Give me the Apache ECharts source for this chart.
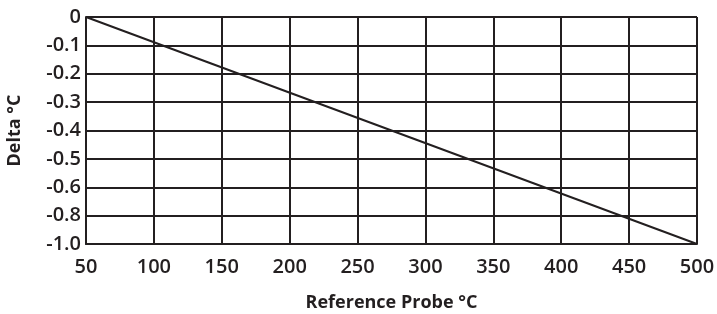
<!DOCTYPE html>
<html><head><meta charset="utf-8">
<script src="https://cdn.jsdelivr.net/npm/echarts@6/dist/echarts.min.js"></script>
<style>html,body{margin:0;padding:0;background:#fff}#c{width:717px;height:314px}</style>
</head><body><div id="c"></div>
<script>
// Tick labels on the Delta axis (the original chart's axis is not linear: -0.7 and -0.9 are skipped)
const yTickLabels = ['0','-0.1','-0.2','-0.3','-0.4','-0.5','-0.6','-0.8','-1.0'];
// Reference probe temperatures (°C)
const probeTemps = [50, 500];
// Delta values (°C), matching yTickLabels entries
const deltaValues = ['0', '-1.0'];

const ink = '#231f20';
const chart = echarts.init(document.getElementById('c'), null, {renderer:'canvas'});
chart.setOption({
  animation: false,
  backgroundColor: '#fff',
  grid: {left: 86, right: 20, top: 17, bottom: 70, containLabel: false, outerBoundsMode: 'none'},
  xAxis: {
    type: 'value', min: 50, max: 500, interval: 50,
    name: 'Reference Probe °C', nameLocation: 'middle', nameGap: 50,
    nameTextStyle: {fontFamily: 'Open Sans', fontWeight: 'bold', fontSize: 18, color: ink},
    axisLine: {show: true, lineStyle: {color: ink, width: 2}},
    axisTick: {show: false},
    axisLabel: {fontFamily: 'Open Sans', fontWeight: 600, fontSize: 20, color: ink, margin: 13},
    splitLine: {show: true, lineStyle: {color: ink, width: 2}}
  },
  yAxis: {
    type: 'category', data: yTickLabels, boundaryGap: false, inverse: true,
    name: 'Delta °C', nameLocation: 'middle', nameGap: 62, nameRotate: 90,
    nameTextStyle: {fontFamily: 'Open Sans', fontWeight: 'bold', fontSize: 18, color: ink},
    axisLine: {show: true, lineStyle: {color: ink, width: 2}},
    axisTick: {show: false},
    axisLabel: {fontFamily: 'Open Sans', fontWeight: 600, fontSize: 20, color: ink, margin: 5, interval: 0},
    splitLine: {show: true, interval: 0, lineStyle: {color: ink, width: 2}}
  },
  series: [{
    type: 'line',
    data: probeTemps.map((t, i) => [t, deltaValues[i]]),
    symbol: 'none',
    lineStyle: {color: ink, width: 2}
  }]
});
</script></body></html>
